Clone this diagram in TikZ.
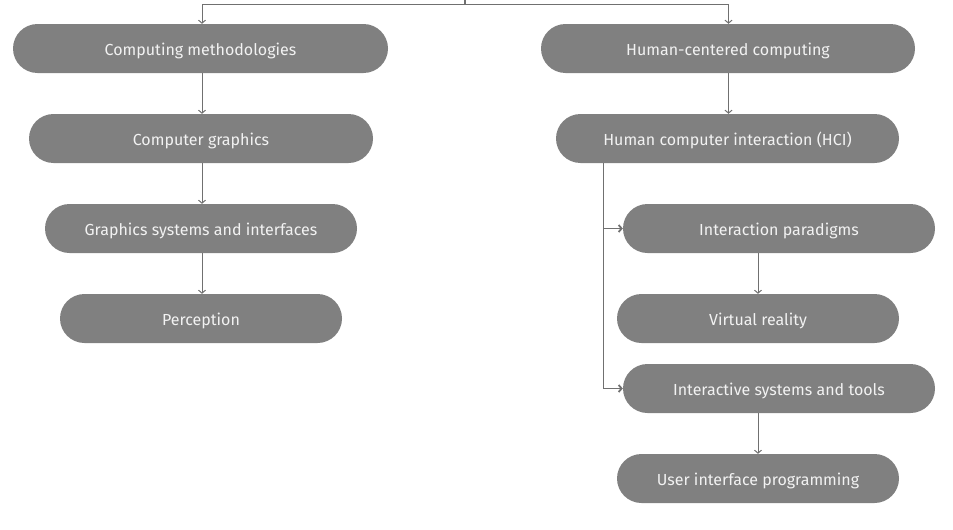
\documentclass[tikz,border=0pt]{standalone}
\usepackage{fontspec}
\setmainfont{Fira Sans}
\usetikzlibrary{arrows.meta}
\definecolor{boxgray}{HTML}{808080}
\definecolor{linegray}{HTML}{707070}
\definecolor{txt}{HTML}{F2F2F2}
\begin{document}
\begin{tikzpicture}[x=1pt,y=-1pt,
  pill/.style={rectangle, rounded corners=24.5pt, fill=boxgray, text=txt,
    font=\fontsize{16}{19}\selectfont, minimum height=49pt, inner sep=0pt,
    text height=16pt, text depth=3pt},
  conn/.style={draw=linegray, line width=1pt, -{Straight Barb[length=3pt,width=7pt]}},
  trunk/.style={draw=linegray, line width=1.8pt}]
\useasboundingbox (0,0) rectangle (953,530);
% left column
\node[pill, minimum width=375pt] (cm)  at (200.5,48.5) {Computing methodologies};
\node[pill, minimum width=344pt] (cg)  at (201,138.5) {Computer graphics};
\node[pill, minimum width=312pt] (gsi) at (201,228.5) {Graphics systems and interfaces};
\node[pill, minimum width=282pt] (per) at (201,318.5) {Perception};
% right column
\node[pill, minimum width=374pt] (hcc) at (728,48.5) {Human-centered computing};
\node[pill, minimum width=343pt] (hci) at (727.5,138.5) {Human computer interaction (HCI)};
\node[pill, minimum width=312pt] (ip)  at (779,228.5) {Interaction paradigms};
\node[pill, minimum width=282pt] (vr)  at (758,318.5) {Virtual reality};
\node[pill, minimum width=312pt] (ist) at (779,388.5) {Interactive systems and tools};
\node[pill, minimum width=282pt] (uip) at (758,478.5) {User interface programming};
% helper coordinates
\coordinate (root) at (465,0);
\coordinate (busL) at (202,4.5);
\coordinate (busR) at (728.5,4.5);
\coordinate (xl) at (202,0);
\coordinate (xr) at (728.5,0);
\coordinate (xb) at (603.5,0);
\coordinate (xs) at (758,0);
% top bus
\draw[trunk] (root) -- (root |- busL);
\draw[trunk] (busL) -- (busR);
\draw[conn] (busL) -- (busL |- cm.north);
\draw[conn] (busR) -- (busR |- hcc.north);
% left chain
\draw[conn] (cm.south -| xl) -- (cg.north -| xl);
\draw[conn] (cg.south -| xl) -- (gsi.north -| xl);
\draw[conn] (gsi.south -| xl) -- (per.north -| xl);
% right chain
\draw[conn] (hcc.south -| xr) -- (hci.north -| xr);
\draw[trunk] (hci.south -| xb) -- (ist.west -| xb);
\draw[conn, line width=1.8pt] (ip.west -| xb) -- (ip.west);
\draw[conn, line width=1.8pt] (ist.west -| xb) -- (ist.west);
\draw[conn] (ip.south -| xs) -- (vr.north -| xs);
\draw[conn] (ist.south -| xs) -- (uip.north -| xs);
\end{tikzpicture}
\end{document}
